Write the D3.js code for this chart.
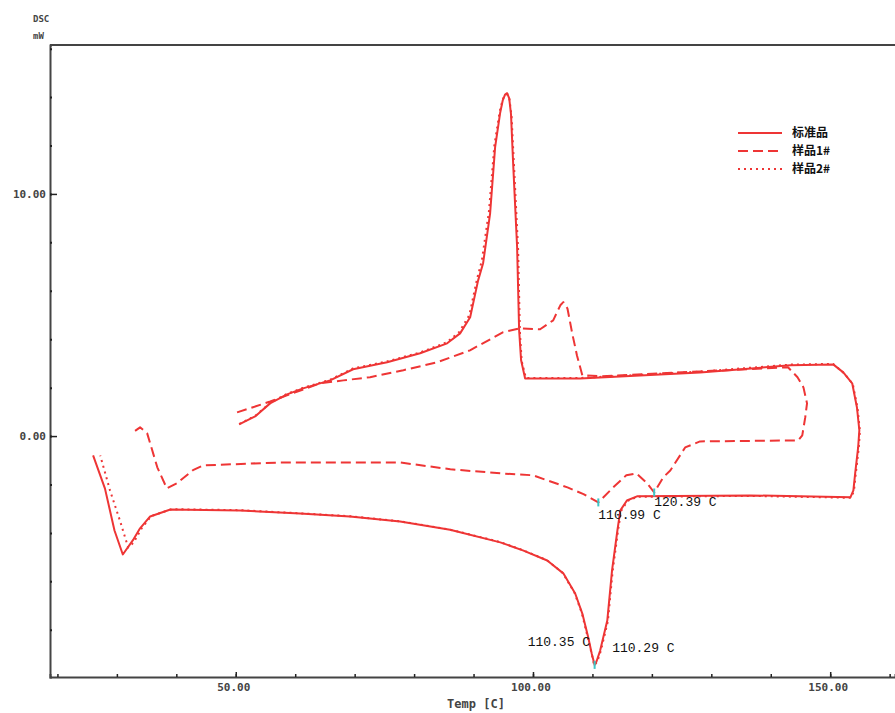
<!DOCTYPE html>
<html lang="zh">
<head>
  <meta charset="UTF-8" />
  <title>DSC</title>
  <script src="https://d3js.org/d3.v7.min.js"></script>
  <style>
    body {
      margin: 0;
      background: #fff;
    }
    .tick-label {
      font-family: "DejaVu Sans Mono", monospace;
      font-size: 11px;
      font-weight: bold;
      fill: #444;
    }
    .note {
      font-family: "Liberation Mono", monospace;
      font-size: 13px;
      fill: #111;
    }
    .legend-text {
      font-family: "Noto Sans CJK SC", sans-serif;
      font-size: 12px;
      font-weight: bold;
      fill: #111;
    }
    .curve {
      fill: none;
      stroke: #ee3535;
      stroke-width: 2;
      stroke-linejoin: round;
    }
  </style>
</head>
<body>
  <svg id="chart" width="895" height="713"></svg>

  <script>
    const width = 895;
    const height = 713;

    // [temperature C, heat flow mW]
    const standard = [
      [50.56, 0.48], [53.25, 0.81], [55.77, 1.35], [58.63, 1.72], [61.32, 1.97],
      [65.87, 2.30], [69.74, 2.76], [75.46, 3.05], [81.01, 3.42], [85.56, 3.83],
      [87.74, 4.24], [89.43, 4.91], [90.77, 6.43], [91.61, 7.14], [92.79, 9.20],
      [93.63, 11.93], [94.47, 13.34], [94.9, 13.85], [95.3, 14.1], [95.65, 14.16],
      [96.0, 13.95], [96.3, 13.3], [96.66, 11.27], [97.33, 7.80], [97.67, 4.37],
      [98.0, 3.13], [98.68, 2.38], [107.93, 2.38], [128.1, 2.63], [143.3, 2.92],
      [150.5, 2.96], [152.2, 2.63], [153.7, 2.18], [154.5, 1.18], [154.9, 0.24],
      [154.7, -0.47], [154.2, -1.54], [153.9, -2.24], [153.4, -2.53], [136.5, -2.45],
      [117.5, -2.49], [115.8, -2.66], [114.7, -3.07], [114.2, -3.90], [113.3, -5.55],
      [112.5, -7.62], [111.3, -8.86], [110.7, -9.30], [110.37, -9.45], [109.9, -9.0],
      [109.3, -8.32], [108.3, -7.33], [107.1, -6.50], [105.1, -5.67], [102.4, -5.14],
      [98.3, -4.72], [94.5, -4.39], [86.05, -3.87], [77.65, -3.53], [69.2, -3.32],
      [60.8, -3.20], [50.7, -3.07], [39.0, -3.03], [35.6, -3.32], [33.9, -3.81],
      [32.7, -4.30], [31.0, -4.89], [29.6, -3.90], [28.0, -2.17], [26.0, -0.80]
    ];

    const sample1 = [
      [50.22, 0.98], [52.9, 1.19], [55.8, 1.43], [58.6, 1.68], [64.2, 2.18],
      [68.1, 2.30], [72.6, 2.43], [78.2, 2.72], [83.9, 3.05], [89.4, 3.54],
      [95.0, 4.29], [97.8, 4.45], [101.2, 4.41], [103.4, 4.78], [104.6, 5.40],
      [105.1, 5.53], [105.8, 5.27], [106.6, 4.24], [107.4, 3.33], [108.3, 2.51],
      [111.3, 2.47], [128.1, 2.67], [142.9, 2.84], [144.5, 2.43], [145.5, 2.01],
      [146.1, 1.35], [145.8, 0.77], [145.3, 0.03], [144.6, -0.18], [128.1, -0.22],
      [125.6, -0.47], [123.1, -1.42], [121.9, -1.71], [120.39, -2.33], [119.2, -1.95],
      [117.4, -1.54], [115.7, -1.62], [113.5, -2.12], [110.99, -2.74], [108.5, -2.40],
      [105.8, -2.12], [100.0, -1.62], [94.5, -1.54], [86.1, -1.37], [77.6, -1.09],
      [67.6, -1.09], [57.5, -1.09], [44.5, -1.21], [42.8, -1.41], [40.1, -1.95],
      [38.4, -2.16], [36.8, -1.29], [35.1, 0.11], [33.9, 0.36], [32.7, 0.15]
    ];

    const sample2 = [
      [50.6, 0.50], [53.3, 0.84], [55.8, 1.37], [58.6, 1.74], [61.3, 1.99],
      [65.9, 2.33], [69.7, 2.79], [75.4, 3.08], [81.0, 3.45], [85.5, 3.87],
      [87.6, 4.30], [89.3, 5.00], [90.6, 6.50], [91.4, 7.25], [92.6, 9.30],
      [93.5, 12.0], [94.4, 13.40], [94.9, 13.9], [95.3, 14.1], [95.7, 14.12],
      [96.05, 13.9], [96.4, 13.2], [96.8, 11.20], [97.5, 7.70], [97.8, 4.30],
      [98.1, 3.10], [98.8, 2.40], [108.0, 2.40], [128.1, 2.66], [143.3, 2.95],
      [150.5, 2.98], [152.3, 2.60], [153.8, 2.15], [154.6, 1.15], [155.0, 0.22],
      [154.8, -0.50], [154.3, -1.56], [154.0, -2.26], [153.5, -2.55], [136.5, -2.47],
      [117.5, -2.51], [115.9, -2.68], [114.8, -3.10], [114.3, -3.92], [113.4, -5.58],
      [112.6, -7.65], [111.4, -8.88], [110.8, -9.32], [110.29, -9.47], [109.9, -9.02],
      [109.2, -8.30], [108.2, -7.30], [107.0, -6.48], [105.0, -5.65], [102.3, -5.12],
      [98.2, -4.70], [94.4, -4.37], [86.0, -3.86], [77.6, -3.52], [69.2, -3.31],
      [60.8, -3.19], [50.7, -3.06], [39.2, -3.02], [35.8, -3.30], [34.2, -3.80],
      [32.8, -4.40], [31.9, -4.60], [30.5, -3.48], [28.85, -2.25], [27.2, -0.80]
    ];

    const seriesNames = ["标准品", "样品1#", "样品2#"];
    const seriesDash = [null, "10,5", "2,4"];

    const markers = [
      { t: 110.99, v: -2.74, label: "110.99 C", dx: 0, dy: 17 },
      { t: 120.39, v: -2.33, label: "120.39 C", dx: 0, dy: 14 },
      { t: 110.37, v: -9.45, label: "110.35 C", dx: -67, dy: -19 },
      { t: 110.29, v: -9.47, label: "110.29 C", dx: 18, dy: -13 }
    ];

    const xMajor = [50, 100, 150];
    const yMajor = [0, 10];

    const margin = { top: 45, right: 0, bottom: 36, left: 50 };

    const x = d3.scaleLinear()
      .domain([18.75, 160.9])
      .range([margin.left, width - margin.right]);

    const y = d3.scaleLinear()
      .domain([-9.95, 16.15])
      .range([height - margin.bottom, margin.top]);

    const svg = d3.select("#chart");

    // frame
    svg.append("line")
      .attr("x1", margin.left).attr("x2", width)
      .attr("y1", margin.top).attr("y2", margin.top)
      .attr("stroke", "#444").attr("stroke-width", 2);

    // x axis, ticks pointing inward
    const xAxisMinor = d3.axisTop(x)
      .tickValues(d3.range(20, 161, 10))
      .tickSize(3)
      .tickFormat("");
    svg.append("g")
      .attr("transform", `translate(0, ${y.range()[0]})`)
      .call(xAxisMinor)
      .call(g => g.select(".domain").attr("stroke", "#444").attr("stroke-width", 2))
      .call(g => g.selectAll(".tick line").attr("stroke", "#222").attr("stroke-width", 1.5));

    svg.append("g")
      .attr("transform", `translate(0, ${y.range()[0]})`)
      .call(d3.axisTop(x).tickValues(xMajor).tickSize(5).tickFormat(""))
      .call(g => g.select(".domain").remove())
      .call(g => g.selectAll(".tick line").attr("stroke", "#222").attr("stroke-width", 1.5));

    svg.append("g")
      .selectAll("text")
      .data(xMajor)
      .join("text")
      .attr("class", "tick-label")
      .attr("x", d => x(d) - 2)
      .attr("y", y.range()[0] + 14)
      .attr("text-anchor", "middle")
      .text(d => d3.format(".2f")(d));

    // y axis
    svg.append("g")
      .attr("transform", `translate(${margin.left}, 0)`)
      .call(d3.axisRight(y).tickValues(d3.range(-8, 17, 2)).tickSize(2).tickFormat(""))
      .call(g => g.select(".domain").attr("stroke", "#444").attr("stroke-width", 2))
      .call(g => g.selectAll(".tick line").attr("stroke", "#222").attr("stroke-width", 2));

    svg.append("g")
      .attr("transform", `translate(${margin.left}, 0)`)
      .call(d3.axisRight(y).tickValues(yMajor).tickSize(7).tickFormat(""))
      .call(g => g.select(".domain").remove())
      .call(g => g.selectAll(".tick line").attr("stroke", "#222").attr("stroke-width", 1.5));

    svg.append("g")
      .selectAll("text")
      .data(yMajor)
      .join("text")
      .attr("class", "tick-label")
      .attr("x", margin.left - 4)
      .attr("y", d => y(d))
      .attr("dy", "0.35em")
      .attr("text-anchor", "end")
      .text(d => d3.format(".2f")(d));

    // axis titles
    svg.append("text")
      .attr("class", "tick-label")
      .attr("x", 476).attr("y", 708)
      .attr("text-anchor", "middle")
      .attr("fill", "#222")
      .style("font-size", "12px")
      .text("Temp [C]");

    svg.append("text")
      .attr("class", "tick-label")
      .attr("x", 33).attr("y", 22)
      .style("font-size", "9px")
      .text("DSC");

    svg.append("text")
      .attr("class", "tick-label")
      .attr("x", 33).attr("y", 39)
      .style("font-size", "9px")
      .text("mW");

    // curves
    const line = d3.line()
      .x(d => x(d[0]))
      .y(d => y(d[1]));

    const allSeries = [standard, sample1, sample2];

    svg.append("g")
      .selectAll("path")
      .data(allSeries)
      .join("path")
      .attr("class", "curve")
      .attr("d", line)
      .attr("stroke-dasharray", (d, i) => seriesDash[i]);

    // peak markers
    const mk = svg.append("g");
    mk.selectAll("line")
      .data(markers.slice(0, 3))
      .join("line")
      .attr("x1", d => x(d.t)).attr("x2", d => x(d.t))
      .attr("y1", d => y(d.v) - 4).attr("y2", d => y(d.v) + 4)
      .attr("stroke", "#3cc6c6")
      .attr("stroke-width", 2);

    mk.selectAll("text")
      .data(markers)
      .join("text")
      .attr("class", "note")
      .attr("x", d => x(d.t) + d.dx)
      .attr("y", d => y(d.v) + d.dy)
      .text(d => d.label);

    // legend
    const legend = svg.append("g")
      .attr("transform", "translate(738, 133)");

    const rows = legend.selectAll("g")
      .data(seriesNames)
      .join("g")
      .attr("transform", (d, i) => `translate(0, ${i * 18})`);

    rows.append("line")
      .attr("x1", 0).attr("x2", 44)
      .attr("stroke", "#ee3535")
      .attr("stroke-width", 2)
      .attr("stroke-dasharray", (d, i) => seriesDash[i]);

    rows.append("text")
      .attr("class", "legend-text")
      .attr("x", 54)
      .attr("dy", "0.35em")
      .text(d => d);
  </script>
</body>
</html>
